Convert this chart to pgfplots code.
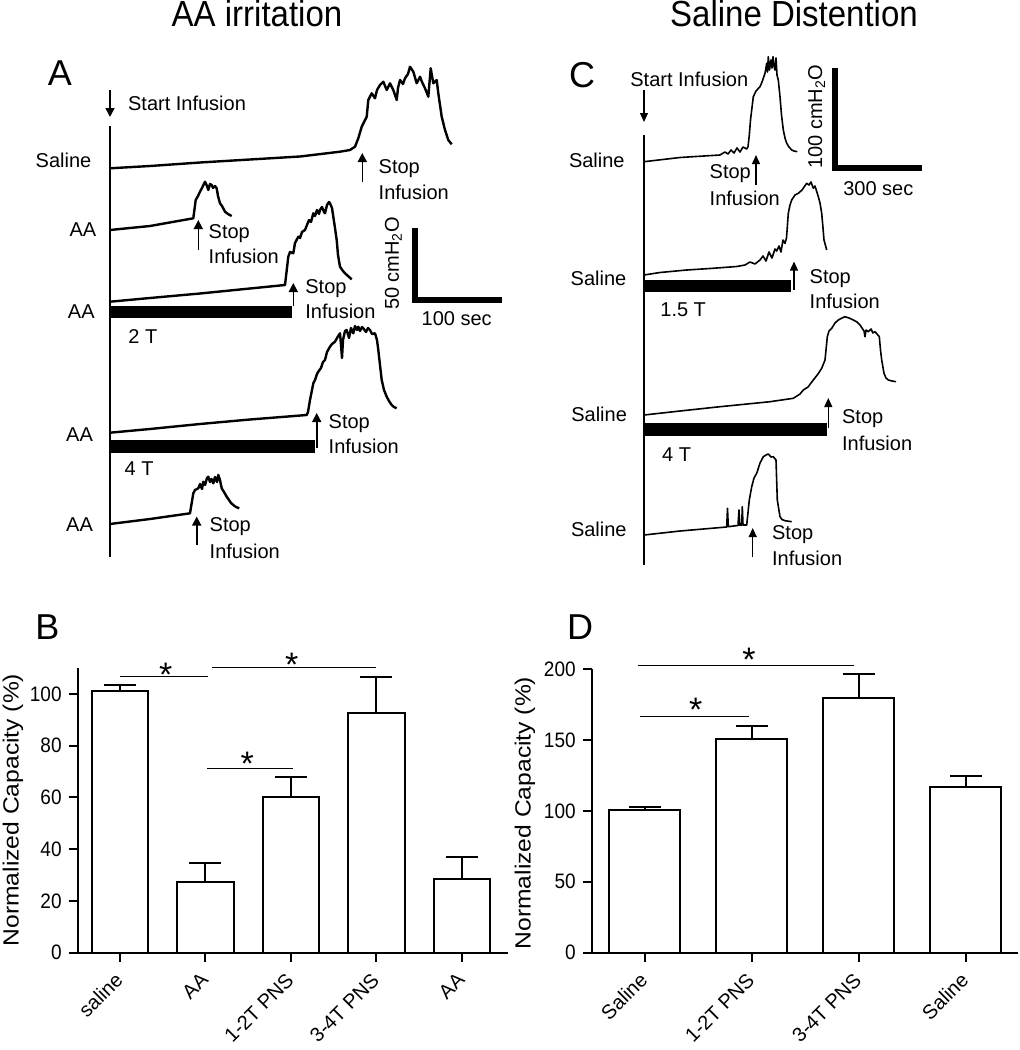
\documentclass[border=0pt]{standalone}
\usepackage{pgfplots}
\pgfplotsset{compat=1.18}
\usepackage{pgfplotstable}
\usepackage{fontspec}
\setmainfont{Liberation Sans}
\usetikzlibrary{arrows.meta}

\pgfplotstableread{
x y e
0 101.3 2.0
1 27.2 7.4
2 60.0 7.7
3 92.6 13.8
4 28.5 8.3
}\dataB
\pgfplotstableread{
x y e
0 100.6 2.3
1 150.4 9.6
2 179.8 16.7
3 116.6 8.2
}\dataD

\tikzset{
 lab/.style={font=\fontsize{10pt}{12pt}\selectfont, inner sep=0pt},
 big/.style={font=\fontsize{18pt}{20pt}\selectfont, inner sep=0pt},
 ttl/.style={font=\fontsize{16.5pt}{18pt}\selectfont, inner sep=0pt, yscale=1.1},
 ylab/.style={font=\fontsize{11pt}{13pt}\selectfont, inner sep=0pt, rotate=90, xscale=1.12},
 star/.style={font=\fontsize{17pt}{18pt}\selectfont, inner sep=0pt, anchor=north},
 arrA/.style={line width=0.8pt, -{Triangle[width=4.5pt,length=4.5pt]}},
 arrC/.style={line width=0.6pt, -{Triangle[width=4pt,length=4.5pt]}},
}

\begin{document}
\begin{tikzpicture}
\useasboundingbox (0,0) rectangle (510pt,525pt);
\begin{axis}[at={(0,0)}, anchor=south west, scale only axis, width=510pt, height=525pt,
  xmin=0, xmax=1020, ymin=0, ymax=1050, y dir=reverse, hide axis, clip=false]
% titles
\node[ttl] at (257,14) {AA irritation};
\node[ttl] at (794,14) {Saline Distention};
% ---------------- Panel A ----------------
\node[big] at (60,73) {A};
\draw[line width=1.3pt] (110,126) -- (110,557);
\draw[arrA] (110,90) -- (110,117);
\node[lab, anchor=west] at (127.7,103) {Start Infusion};
% trace 1 saline
\addplot[black, line width=1.2pt, line join=round] coordinates {
(110,168.3) (150,166) (200,162.5) (250,159.5) (300,156.5) (340,151.7) (350,150) (355,146.7) (358.3,138.3) (361.7,126.7) (366.7,116.7) (368.3,100) (371.7,93.3) (375,98.3) (377,90) (380,85) (383.3,81.7) (386.7,90) (390,83.3) (393.3,90) (396.7,100) (398,88) (400,80) (403,84) (405,78.3) (408,74) (410,66.7) (413.3,71.7) (416.7,83.3) (420,76.7) (422,82) (425,88.3) (428.3,96.7) (430.7,68.3) (433.3,83.3) (436.7,80) (438.3,93.3) (441.7,116.7) (445,130) (448.3,140) (451.7,144.3)};
\node[lab, anchor=east] at (91.7,160) {Saline};
\draw[arrA] (362.3,182) -- (362.3,153);
\node[lab, anchor=west] at (378.3,168.3) {Stop};
\node[lab, anchor=west] at (378.3,192.7) {Infusion};
% trace 2 AA
\addplot[black, line width=1.2pt, line join=round] coordinates {
(110,230) (150,226) (193.3,218.3) (195.7,200) (198,196) (200,191.7) (202,188) (205,181.7) (207,186) (208.3,190) (210,184) (211.7,185) (213,188) (215,186) (216.7,188.3) (218,196) (220,203.3) (222,206) (225,211.7) (228,214) (231.7,216)};
\node[lab, anchor=east] at (96.7,230) {AA};
\draw[arrA] (198.3,250) -- (198.3,220);
\node[lab, anchor=west] at (208.3,233.3) {Stop};
\node[lab, anchor=west] at (208.3,256.7) {Infusion};
% trace 3 AA 2T
\addplot[black, line width=1.2pt, line join=round] coordinates {
(110,301.7) (150,298) (200,293.5) (250,288.5) (285,285) (288.3,256.7) (290,252) (293.3,253.3) (295,243) (298.3,236.7) (300,238) (302,232) (305,230) (307,225) (309,220) (311,222) (313.3,213.3) (315,216) (317,210) (319,214) (320,210) (322,207) (324,212) (325,213.3) (327,205) (329,202) (330,203.3) (332,208) (333.3,216.7) (335,228) (336.7,240) (338,255) (340,266.7) (343,271) (345,273.3) (348,276) (351.7,279.3)};
\fill (110,305.5) rectangle (291.7,318.3);
\node[lab, anchor=east] at (95,311.7) {AA};
\node[lab, anchor=west] at (128,336.7) {2 T};
\draw[arrA] (293.3,306) -- (293.3,283);
\node[lab, anchor=west] at (305,288.3) {Stop};
\node[lab, anchor=west] at (305,311.7) {Infusion};
% scale bar A
\draw[line width=3pt, line join=miter] (415,228.3) -- (415,300) -- (502,300);
\node[lab, rotate=90] at (393.3,263.3) {50 cmH\textsubscript{2}O};
\node[lab] at (456.7,318.3) {100 sec};
% trace 4 AA 4T
\addplot[black, line width=1.2pt, line join=round] coordinates {
(110,432.7) (150,429) (200,424) (250,419.5) (306.7,415) (308,412) (310,400) (312,390) (313.3,383.3) (315,380) (317,374) (318.3,371.7) (321,368) (323,362) (325,360) (327,352) (330,346.7) (332,344) (335,341.7) (337,338) (340,333.3) (341,345) (342,358) (343,340) (345,331) (346.7,330) (349,338) (351,328) (353.3,333.3) (355,326) (357,330) (358.3,326.7) (360,331) (362,327) (363.3,328.3) (366,332) (368,328) (370,330) (372,334) (375,333.3) (377,340) (378.3,350) (380,365) (381.7,380) (384,390) (386.7,396.7) (389,401) (391.7,405) (394,407) (396.7,408.3)};
\fill (110,440) rectangle (315,453.3);
\node[lab, anchor=east] at (93.3,435) {AA};
\node[lab, anchor=west] at (124.3,468.3) {4 T};
\draw[arrA] (316.7,448.3) -- (316.7,413);
\node[lab, anchor=west] at (328.3,423.3) {Stop};
\node[lab, anchor=west] at (328.3,446.7) {Infusion};
% trace 5 AA
\addplot[black, line width=1.2pt, line join=round] coordinates {
(110,524) (150,519) (190,513.3) (193.3,493.3) (195,490) (198.3,488.3) (200,484) (202,489) (203.3,481.7) (205,485) (207,478) (208.3,476.7) (210,482) (211.5,479) (213.3,483.3) (215,477) (217,482) (218.3,475) (220,480) (221.7,488.3) (224,492) (226.7,496.7) (229,500) (231,503) (233.3,505) (236,507) (239.3,508.3)};
\node[lab, anchor=east] at (93.3,525) {AA};
\draw[arrA] (196.7,545) -- (196.7,516.5);
\node[lab, anchor=west] at (209.3,526.7) {Stop};
\node[lab, anchor=west] at (209.3,551.7) {Infusion};
% ---------------- Panel C ----------------
\node[big] at (582,75) {C};
\draw[line width=0.75pt] (644,135) -- (644,565);
\draw[arrC] (644,90) -- (644,122);
\node[lab, anchor=west] at (630,79.3) {Start Infusion};
% C1
\addplot[black, line width=0.8pt, line join=round] coordinates {
(644,161.7) (680,157.5) (720,155) (725,152) (728,154) (731,150) (734,153) (737,148) (740,152) (743,147) (746.7,149) (748,146.7) (749.3,135) (750.5,120) (753.3,96.7) (756,91) (760,86.7) (762,82) (765,73.3) (766.7,63.3) (767.5,72) (768.3,56.7) (769.5,70) (771,60) (772,68) (773,56.7) (774,66) (775,70) (776,58) (777,75) (778.3,80) (780,96.7) (781.5,115) (783.3,130) (785,138) (786.7,143.3) (789,147) (791.7,150) (794,151) (797.3,151.7)};
\node[lab, anchor=east] at (625,160) {Saline};
\draw[arrC] (756,185) -- (756,155);
\node[lab, anchor=west] at (709.3,173.3) {Stop};
\node[lab, anchor=west] at (709.3,198.3) {Infusion};
% scale bar C
\draw[line width=3pt, line join=miter] (835,68.3) -- (835,167.7) -- (921.7,167.7);
\node[lab, rotate=90] at (816.7,116.7) {100 cmH\textsubscript{2}O};
\node[lab] at (878.3,188.3) {300 sec};
% C2
\addplot[black, line width=0.8pt, line join=round] coordinates {
(644,275) (660,272.5) (686.7,270) (710,268.5) (736.7,266.5) (745,265) (750,262) (755,264) (760,260) (763,256) (766,261) (769,252) (772,258) (775,249) (776.7,251) (779,246) (781,252) (783,240) (785,243.3) (786.5,238) (788.3,213.3) (790,205) (791.7,200) (795,195) (798.3,193.3) (802,190) (806.7,183.3) (809,185) (811,182) (813.3,188.3) (815,186) (818.3,196.7) (820,203) (821.7,213.3) (823,228) (824,240) (826.7,250)};
\fill (644,280) rectangle (790.7,292.3);
\node[lab, anchor=east] at (626.7,278.3) {Saline};
\node[lab, anchor=west] at (660,310) {1.5 T};
\draw[arrC] (794,290) -- (794,261.5);
\node[lab, anchor=west] at (809.3,278.3) {Stop};
\node[lab, anchor=west] at (809.3,301.7) {Infusion};
% C3
\addplot[black, line width=0.8pt, line join=round] coordinates {
(644,415) (680,411) (720,406.7) (770,401.7) (793.3,398.3) (800,394) (803.3,390) (808,387) (813.3,380) (818,374) (821.7,368.3) (825,360) (826,350) (827.3,336.7) (829,331) (831.7,328.3) (835,323) (838.3,320) (842,318) (845,316.7) (849,318) (853.3,320) (857,322) (860,325) (862,328) (864,331) (865,336.7) (866,330) (868.3,331.7) (871,329) (873,333) (875,331.7) (877,334) (879.3,336.7) (880.5,350) (881.7,360) (884,373.3) (886,378) (888.3,380) (892,381) (896,381.7)};
\fill (644,423.3) rectangle (827.3,436);
\node[lab, anchor=east] at (627.3,414.3) {Saline};
\node[lab, anchor=west] at (661.7,455) {4 T};
\draw[arrC] (828.3,428.3) -- (828.3,398);
\node[lab, anchor=west] at (841.7,418.3) {Stop};
\node[lab, anchor=west] at (841.7,443.3) {Infusion};
% C4
\addplot[black, line width=0.8pt, line join=round] coordinates {
(644,535) (680,531) (726.7,527) (727.5,508.3) (728.3,526.7) (735,525.8) (738,525.5) (739,510) (739.8,525.3) (741.7,525) (742.3,506.7) (743,525) (746.7,525) (749.3,500) (751.7,486.7) (754,478) (756.7,473.3) (760,463) (763.3,456.7) (766,455) (768.3,454) (771,457) (773.3,456.7) (776,460) (777.3,500) (780,516.7) (782,519.5) (785,520.7) (791.7,521.7)};
\node[lab, anchor=east] at (627,529.3) {Saline};
\draw[arrC] (752.7,556.7) -- (752.7,528);
\node[lab, anchor=west] at (771.7,535) {Stop};
\node[lab, anchor=west] at (771.7,558.3) {Infusion};
% ---------------- B and D labels ----------------
\node[big] at (47.5,626.7) {B};
\node[big] at (580,626.7) {D};
\node[ylab] at (13,810) {Normalized Capacity (\%)};
\node[ylab] at (525,813) {Normalized Capacity (\%)};
\end{axis}

\pgfplotsset{barax/.style={scale only axis, anchor=south west,
  axis lines*=left, axis line style={line width=1pt, -},
  tick style={line width=1pt, black}, tick align=outside, major tick length=4.5pt,
  ymin=0,
  yticklabel style={font=\fontsize{9.5pt}{11pt}\selectfont, yscale=1.1},
  xticklabel style={font=\fontsize{10pt}{12pt}\selectfont, xshift=2pt, rotate=45, anchor=east},
  xticklabel shift=5pt,
  /pgf/number format/assume math mode=true, clip=false},
  barplot/.style={ybar, bar width=0.66, fill=white, draw=black, line width=1pt,
  error bars/.cd, y dir=plus, y explicit,
  error bar style={line width=1pt, black},
  error mark options={rotate=90, mark size=8pt, line width=1pt, black}}}

% ---------------- Panel B ----------------
\begin{axis}[barax, at={(38.85pt,48.65pt)},
  width=215.15pt, height=142.35pt,
  xmin=-0.495, xmax=4.54, ymax=110,
  xtick={0,1,2,3,4}, xticklabels={saline,AA,1-2T PNS,3-4T PNS,AA},
  ytick={0,20,40,60,80,100}]
\addplot[barplot] table[x=x, y=y, y error=e] {\dataB};
\draw[line width=1pt] (rel axis cs:0,0) -- ++(-4.5pt,0);
\draw[line width=0.75pt] (0,106.7) -- (1.03,106.7);
\draw[line width=0.75pt] (1.08,110.1) -- (3.0,110.1);
\draw[line width=0.75pt] (1.02,71.2) -- (2.02,71.2);
\node[star] at (0.535,112.1) {*};
\node[star] at (2.01,116.0) {*};
\node[star] at (1.49,77.7) {*};
\end{axis}

% ---------------- Panel D ----------------
\begin{axis}[barax, at={(295.85pt,48.65pt)},
  width=213.15pt, height=141.85pt,
  xmin=-0.495, xmax=3.49, ymax=200,
  xtick={0,1,2,3}, xticklabels={Saline,1-2T PNS,3-4T PNS,Saline},
  ytick={0,50,100,150,200}]
\addplot[barplot] table[x=x, y=y, y error=e] {\dataD};
\draw[line width=1pt] (rel axis cs:0,0) -- ++(-4.5pt,0);
\draw[line width=0.75pt] (-0.06,202.3) -- (1.96,202.3);
\draw[line width=0.75pt] (-0.04,166.4) -- (0.98,166.4);
\node[star] at (0.975,214.8) {*};
\node[star] at (0.477,179.6) {*};
\end{axis}
\end{tikzpicture}
\end{document}
